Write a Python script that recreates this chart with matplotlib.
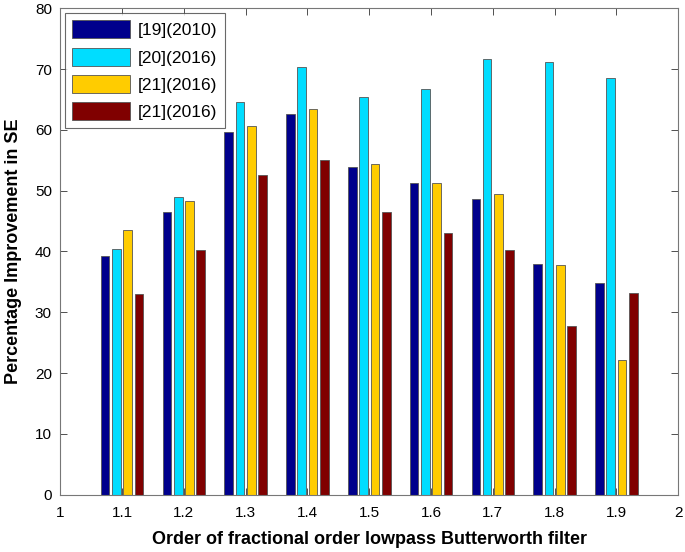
import matplotlib
matplotlib.use("Agg")
import matplotlib.pyplot as plt
import numpy as np

plt.rcParams['font.family'] = ['Liberation Sans', 'DejaVu Sans']

orders = [1.1, 1.2, 1.3, 1.4, 1.5, 1.6, 1.7, 1.8, 1.9]
series_labels = ['[19](2010)', '[20](2016)', '[21](2016)', '[21](2016)']
s19_2010 = [39.2, 46.5, 59.6, 62.6, 53.9, 51.2, 48.6, 38.0, 34.8]
s20_2016 = [40.4, 49.0, 64.6, 70.4, 65.4, 66.8, 71.7, 71.2, 68.6]
s21a_2016 = [43.5, 48.3, 60.7, 63.5, 54.4, 51.2, 49.5, 37.8, 22.1]
s21b_2016 = [33.0, 40.2, 52.5, 55.1, 46.5, 43.0, 40.2, 27.8, 33.1]
colors = ['#00008C', '#00DDFF', '#FFCC00', '#800000']

fig = plt.figure(figsize=(6.85, 5.52), dpi=100)
ax = fig.add_axes([0.088, 0.1038, 0.902, 0.8812])

x = np.array(orders)
spacing = 0.0183
width = 0.014
for i, (vals, c, lab) in enumerate(zip([s19_2010, s20_2016, s21a_2016, s21b_2016], colors, series_labels)):
    ax.bar(x + (i - 1.5) * spacing, vals, width=width, color=c, edgecolor='#555555',
           linewidth=0.6, label=lab)

ax.set_xlim(1, 2)
ax.set_ylim(0, 80)
ax.set_xticks(np.round(np.arange(1, 2.01, 0.1), 1))
ax.set_xticklabels(['1', '1.1', '1.2', '1.3', '1.4', '1.5', '1.6', '1.7', '1.8', '1.9', '2'])
ax.set_yticks(np.arange(0, 81, 10))
ax.tick_params(direction='in', top=True, right=True, length=5, width=0.6,
               labelsize=11, colors='#333333', labelcolor='black')
ax.tick_params(axis='x', pad=8)
ax.tick_params(axis='y', pad=6)
for s in ax.spines.values():
    s.set_color('#777777')
    s.set_linewidth(0.8)

ax.set_xlabel('Order of fractional order lowpass Butterworth filter', fontsize=13,
              fontweight='bold', labelpad=8)
ax.set_ylabel('Percentage Improvement in SE', fontsize=13, fontweight='bold', labelpad=9)

leg = ax.legend(loc='upper left', fontsize=12.5, frameon=True, fancybox=False,
                edgecolor='#444444', handlelength=3.3, handleheight=1.2,
                borderaxespad=0.25, labelspacing=0.55, handletextpad=0.45, borderpad=0.45)
leg.get_frame().set_linewidth(0.8)

fig.savefig('out.png', dpi=100)
